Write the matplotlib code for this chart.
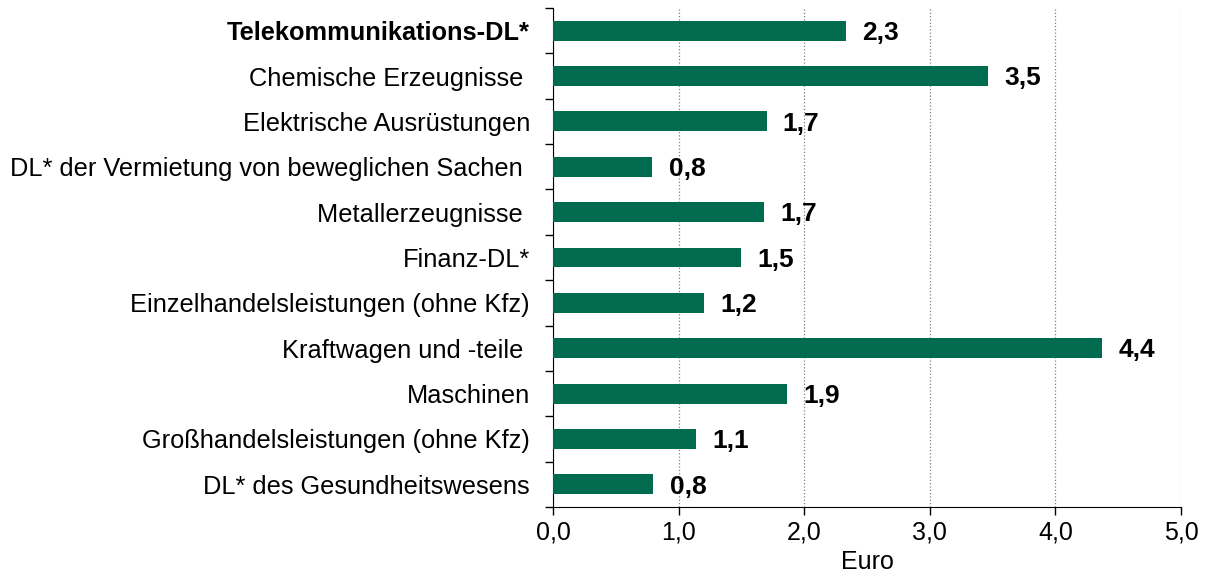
import matplotlib.pyplot as plt
from matplotlib.ticker import FixedLocator
import numpy as np

plt.rcParams['font.family'] = ['Liberation Sans', 'DejaVu Sans']

categories = ['Telekommunikations-DL*', 'Chemische Erzeugnisse ', 'Elektrische Ausrüstungen',
              'DL* der Vermietung von beweglichen Sachen ', 'Metallerzeugnisse ', 'Finanz-DL*',
              'Einzelhandelsleistungen (ohne Kfz)', 'Kraftwagen und -teile ', 'Maschinen',
              'Großhandelsleistungen (ohne Kfz)', 'DL* des Gesundheitswesens']
values = [2.33, 3.46, 1.70, 0.79, 1.68, 1.50, 1.20, 4.37, 1.86, 1.14, 0.80]
xticks = [0, 1, 2, 3, 4, 5]

green = '#006B4F'

fig = plt.figure(figsize=(12.07, 5.75), dpi=100)
ax = fig.add_axes([553/1207, 1-507/575, 628/1207, 499/575])

y = np.arange(len(categories))
ax.barh(y, values, height=0.44, color=green, zorder=3)
for yi, v in zip(y, values):
    ax.text(v + 0.13, yi + 0.05, ('%.1f' % v).replace('.', ','), va='center', ha='left',
            fontsize=19, fontweight='bold')

ax.set_ylim(len(categories) - 0.5, -0.5)
ax.set_xlim(0, 5)
ax.set_yticks(y)
ax.set_yticklabels(categories, fontsize=18.3)
ax.get_yticklabels()[0].set_fontweight('bold')
ax.tick_params(axis='y', which='major', length=0, pad=16.5)
ax.yaxis.set_minor_locator(FixedLocator(np.arange(-0.5, len(categories), 1)))
ax.tick_params(axis='y', which='minor', length=6, width=1, direction='out')

ax.set_xticks(xticks)
ax.set_xticklabels([('%.1f' % t).replace('.', ',') for t in xticks], fontsize=18)
ax.tick_params(axis='x', length=6, width=1, direction='out', pad=4)
ax.set_xlabel('Euro', fontsize=18, labelpad=4)

ax.grid(axis='x', linestyle=':', color='#808080', linewidth=0.9, zorder=0)
ax.spines['top'].set_visible(False)
ax.spines['right'].set_visible(False)

fig.savefig('out.png', dpi=100)
